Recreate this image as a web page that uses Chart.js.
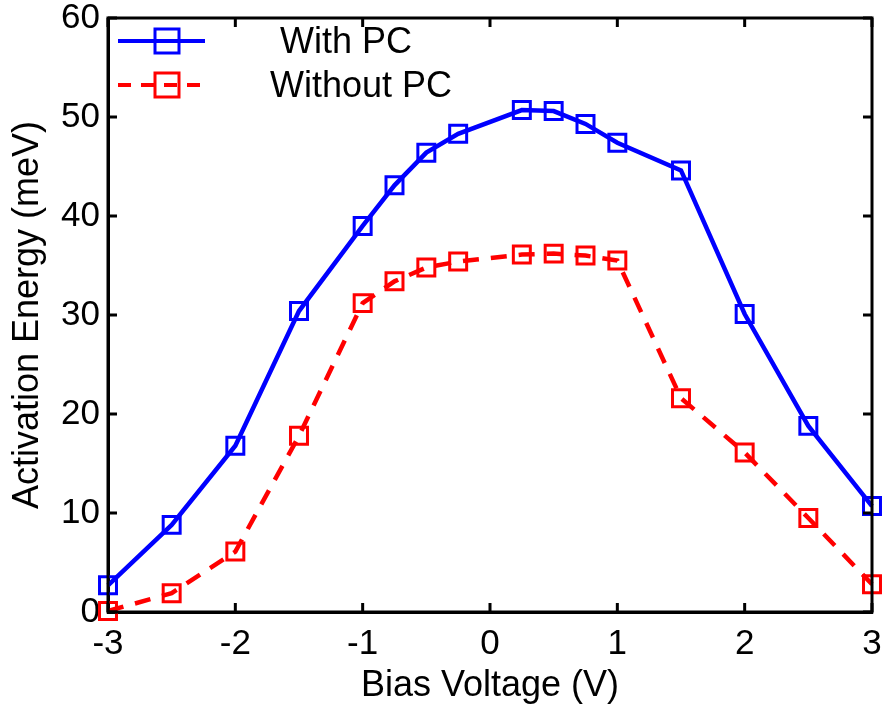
<!DOCTYPE html>
<html>
<head>
<meta charset="utf-8">
<script src="https://cdn.jsdelivr.net/npm/chart.js@4/dist/chart.umd.min.js"></script>
<style>
  html, body { margin: 0; padding: 0; background: #fff; }
  #wrap { width: 886px; height: 708px; }
</style>
</head>
<body>
<div id="wrap"><canvas id="chart" width="886" height="708"></canvas></div>
<script>
// Bias voltage (V)
const biasVoltage = [-3, -2.5, -2, -1.5, -1, -0.75, -0.5, -0.25, 0.25, 0.5, 0.75, 1, 1.5, 2, 2.5, 3];
// Activation energy (meV)
const withPC = [2.7, 8.8, 16.8, 30.4, 39.0, 43.1, 46.4, 48.3, 50.7, 50.6, 49.3, 47.4, 44.6, 30.1, 18.8, 10.7];
const withoutPC = [0.1, 1.9, 6.1, 17.8, 31.2, 33.4, 34.8, 35.4, 36.1, 36.2, 36.0, 35.5, 21.6, 16.1, 9.5, 2.8];
const seriesNames = ['With PC', 'Without PC'];
const xTicks = [-3, -2, -1, 0, 1, 2, 3];
const yTicks = [0, 10, 20, 30, 40, 50, 60];

const FONT = "'Liberation Sans', Arial, sans-serif";
const BLUE = 'rgb(0, 0, 255)';
const RED = 'rgb(255, 0, 0)';

const toPoints = (ys) => ys.map((y, i) => ({ x: biasVoltage[i], y }));

// Box frame plus inward-pointing ticks on all four sides (MATLAB style)
const framePlugin = {
    id: 'frame',
    afterDraw(chart) {
        const { ctx, chartArea: a, scales } = chart;
        const len = 9;
        ctx.save();
        ctx.strokeStyle = '#000';
        ctx.lineWidth = 3;
        ctx.strokeRect(a.left, a.top, a.right - a.left, a.bottom - a.top);
        ctx.beginPath();
        xTicks.forEach(v => {
            const px = scales.x.getPixelForValue(v);
            ctx.moveTo(px, a.bottom); ctx.lineTo(px, a.bottom - len);
            ctx.moveTo(px, a.top); ctx.lineTo(px, a.top + len);
        });
        yTicks.forEach(v => {
            const py = scales.y.getPixelForValue(v);
            ctx.moveTo(a.left, py); ctx.lineTo(a.left + len, py);
            ctx.moveTo(a.right, py); ctx.lineTo(a.right - len, py);
        });
        ctx.stroke();
        ctx.restore();
    }
};

// Legend in the upper-left corner of the plot box
const legendPlugin = {
    id: 'boxLegend',
    afterDraw(chart) {
        const { ctx, chartArea: a } = chart;
        const rows = [
            { label: seriesNames[0], color: BLUE, dash: [], y: a.top + 23, textX: a.left + 172 },
            { label: seriesNames[1], color: RED, dash: [13, 10], y: a.top + 67, textX: a.left + 162 }
        ];
        ctx.save();
        rows.forEach(r => {
            ctx.strokeStyle = r.color;
            ctx.lineWidth = 4;
            ctx.setLineDash(r.dash);
            ctx.beginPath();
            ctx.moveTo(a.left + 10, r.y);
            ctx.lineTo(a.left + 97, r.y);
            ctx.stroke();
            ctx.setLineDash([]);
            ctx.lineWidth = 3;
            ctx.strokeRect(a.left + 47, r.y - 12, 24, 24);
            ctx.fillStyle = '#000';
            ctx.font = `36px ${FONT}`;
            ctx.textBaseline = 'middle';
            ctx.textAlign = 'left';
            ctx.fillText(r.label, r.textX, r.y + 2);
        });
        ctx.restore();
    }
};

new Chart(document.getElementById('chart'), {
    type: 'line',
    data: {
        datasets: [{
            label: seriesNames[0],
            data: toPoints(withPC),
            borderColor: BLUE,
            borderWidth: 4.5,
            pointStyle: 'rect',
            pointRadius: 12,
            pointBorderWidth: 3,
            pointBorderColor: BLUE,
            pointBackgroundColor: 'rgba(0,0,0,0)',
            tension: 0,
            clip: false
        }, {
            label: seriesNames[1],
            data: toPoints(withoutPC),
            borderColor: RED,
            borderWidth: 4.5,
            borderDash: [16, 12],
            pointStyle: 'rect',
            pointRadius: 12,
            pointBorderWidth: 3,
            pointBorderColor: RED,
            pointBackgroundColor: 'rgba(0,0,0,0)',
            tension: 0,
            clip: false
        }]
    },
    options: {
        responsive: false,
        animation: false,
        layout: { autoPadding: false, padding: { top: 18, right: 14, left: 0, bottom: 0 } },
        plugins: {
            legend: { display: false },
            tooltip: { enabled: false }
        },
        scales: {
            x: {
                type: 'linear',
                min: -3,
                max: 3,
                afterFit: (s) => {
                    s.height = 96;
                    s.paddingLeft = 0;
                    s.paddingRight = 0;
                },
                afterBuildTicks: (s) => { s.ticks = xTicks.map(v => ({ value: v })); },
                grid: { display: false, drawTicks: false },
                border: { display: true, color: '#000', width: 3 },
                ticks: { color: '#000', padding: 11, font: { family: FONT, size: 35 } },
                title: {
                    display: true,
                    text: 'Bias Voltage (V)',
                    color: '#000',
                    font: { family: FONT, size: 36 },
                    padding: { top: 0, bottom: 0 }
                }
            },
            y: {
                min: 0,
                max: 60,
                afterFit: (s) => {
                    s.width = 108;
                    s.paddingTop = 0;
                    s.paddingBottom = 0;
                },
                afterBuildTicks: (s) => { s.ticks = yTicks.map(v => ({ value: v })); },
                grid: { display: false, drawTicks: false },
                border: { display: true, color: '#000', width: 3 },
                ticks: { color: '#000', padding: 8, font: { family: FONT, size: 35 } },
                title: {
                    display: true,
                    text: 'Activation Energy (meV)',
                    color: '#000',
                    font: { family: FONT, size: 36 },
                    padding: { top: 6, bottom: 0 }
                }
            }
        }
    },
    plugins: [framePlugin, legendPlugin]
});
</script>
</body>
</html>
